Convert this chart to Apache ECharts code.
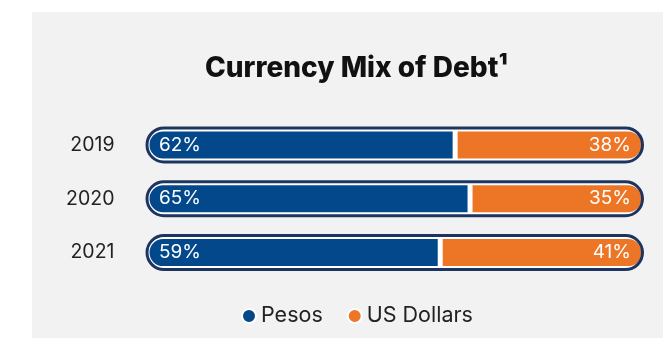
<!DOCTYPE html>
<html>
<head>
<meta charset="utf-8">
<script src="https://cdn.jsdelivr.net/npm/echarts@6/dist/echarts.min.js"></script>
<style>
  html, body { margin:0; padding:0; background:#ffffff; }
  #panel { position:absolute; left:32px; top:12px; width:631px; height:326px; background:#f2f2f2; }
  #chart { position:absolute; left:0; top:0; width:663px; height:338px; }
</style>
</head>
<body>
<div id="panel"></div>
<div id="chart"></div>
<script>
const titleText = 'Currency Mix of Debt\u00B9';
const categories = ['2019', '2020', '2021'];
const seriesNames = ['Pesos', 'US Dollars'];
const pesos = [62, 65, 59];
const usDollars = [38, 35, 41];
const totals = [100, 100, 100];

const FONT = 'Inter, "Noto Sans", sans-serif';
const chart = echarts.init(document.getElementById('chart'), null, { renderer: 'canvas' });

chart.setOption({
  backgroundColor: 'transparent',
  animation: false,
  title: {
    text: titleText,
    left: 205,
    top: 55,
    padding: 0,
    textStyle: { fontFamily: FONT, fontWeight: 800, fontSize: 28, color: '#111111' }
  },
  legend: {
    data: seriesNames,
    left: 241,
    top: 305,
    padding: 0,
    icon: 'circle',
    itemWidth: 14,
    itemHeight: 14,
    itemGap: 24,
    textStyle: { fontFamily: FONT, fontSize: 21.5, color: '#222222' }
  },
  grid: { left: 145.5, right: 19, top: 118, bottom: 58.5 },
  xAxis: [
    { type: 'value', min: 0, max: 100, show: false },
    { type: 'value', min: -0.3, max: 100, show: false }
  ],
  yAxis: [
    {
      type: 'category', data: categories, inverse: true,
      axisLine: { show: false }, axisTick: { show: false }, splitLine: { show: false },
      axisLabel: { margin: 31, fontFamily: FONT, fontSize: 19.5, color: '#222222' }
    },
    { type: 'category', data: categories, inverse: true, show: false }
  ],
  series: [
    {
      name: 'bg', type: 'bar', xAxisIndex: 0, yAxisIndex: 0, data: totals,
      barWidth: 37, barGap: '-100%', z: 1, silent: true,
      itemStyle: { color: '#ffffff', borderRadius: 18.5 }
    },
    {
      name: seriesNames[0], type: 'bar', xAxisIndex: 1, yAxisIndex: 1, stack: 'mix', data: pesos,
      barWidth: 32, z: 2,
      itemStyle: { color: '#02488b', borderColor: '#ffffff', borderWidth: 2.5, borderRadius: [16, 0, 0, 16] },
      label: { show: true, position: 'insideLeft', distance: 12, formatter: '{c}%', color: '#ffffff', fontFamily: FONT, fontSize: 19 }
    },
    {
      name: seriesNames[1], type: 'bar', xAxisIndex: 1, yAxisIndex: 1, stack: 'mix', data: usDollars,
      barWidth: 32, z: 2,
      itemStyle: { color: '#ed7626', borderColor: '#ffffff', borderWidth: 2.5, borderRadius: [0, 16, 16, 0] },
      label: { show: true, position: 'insideRight', distance: 13, formatter: '{c}%', color: '#ffffff', fontFamily: FONT, fontSize: 19 }
    },
    {
      name: 'outline', type: 'bar', xAxisIndex: 0, yAxisIndex: 0, data: totals,
      barWidth: 37, barGap: '-100%', z: 3, silent: true,
      itemStyle: { color: 'rgba(0,0,0,0)', borderColor: '#1d3461', borderWidth: 3, borderRadius: 18.5 }
    }
  ]
});
</script>
</body>
</html>
